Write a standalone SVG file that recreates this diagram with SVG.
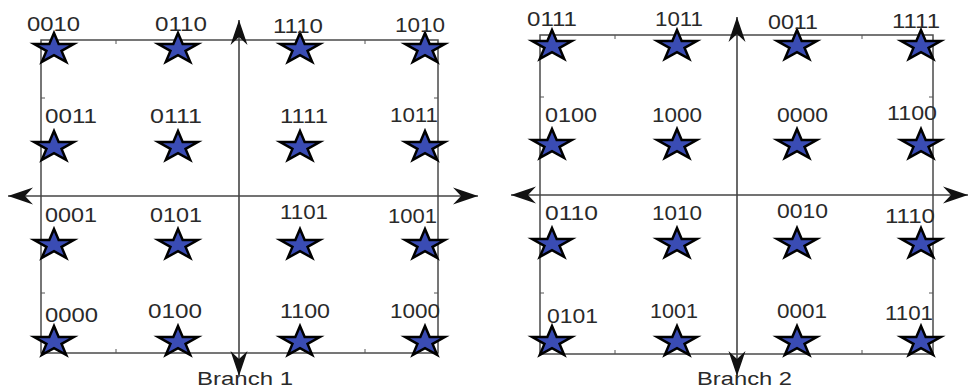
<svg xmlns="http://www.w3.org/2000/svg" width="970" height="389" viewBox="0 0 970 389">
<style>
.box{fill:none;stroke:#4a4a4a;stroke-width:1.5}
.tick{stroke:#555;stroke-width:1}
.axis{stroke:#444;stroke-width:1.6;fill:none;marker-end:url(#ah)}
.lbl{font-family:"Liberation Sans",Arial,sans-serif;font-size:21px;fill:#2a2a2a}
.cap{font-family:"Liberation Sans",Arial,sans-serif;font-size:18px;fill:#2a2a2a}
.star{fill:#3a4cb4;stroke:#000;stroke-width:2.5;stroke-linejoin:miter}
</style>
<defs>
<marker id="ah" markerUnits="userSpaceOnUse" markerWidth="30" markerHeight="20" viewBox="-26 -10 28 20" refX="0" refY="0" orient="auto">
<path d="M0,0 L-25,-8.5 L-17,0 L-25,8.5 Z" fill="#111"/>
</marker>
<path id="st" class="star" d="M0,-16 L4.67,-4.94 L19.8,-4.94 L7.55,1.89 L12.2,12.94 L0,6.11 L-12.2,12.94 L-7.55,1.89 L-19.8,-4.94 L-4.67,-4.94 Z"/>
</defs>
<rect width="970" height="389" fill="#fff"/>
<g id="frame1">
<rect class="box" x="41" y="40" width="397" height="313"/>
<line class="tick" x1="116" y1="40" x2="116" y2="44"/>
<line class="tick" x1="365" y1="40" x2="365" y2="44"/>
<line class="tick" x1="116" y1="353" x2="116" y2="349"/>
<line class="tick" x1="365" y1="353" x2="365" y2="349"/>
<line class="tick" x1="41" y1="98" x2="45" y2="98"/>
<line class="tick" x1="41" y1="293" x2="45" y2="293"/>
<line class="tick" x1="438" y1="98" x2="434" y2="98"/>
<line class="tick" x1="438" y1="293" x2="434" y2="293"/>
</g>
<g id="frame2">
<rect class="box" x="540" y="35" width="393" height="319"/>
<line class="tick" x1="615" y1="35" x2="615" y2="39"/>
<line class="tick" x1="862" y1="35" x2="862" y2="39"/>
<line class="tick" x1="615" y1="354" x2="615" y2="350"/>
<line class="tick" x1="862" y1="354" x2="862" y2="350"/>
<line class="tick" x1="540" y1="97" x2="544" y2="97"/>
<line class="tick" x1="540" y1="293" x2="544" y2="293"/>
<line class="tick" x1="933" y1="97" x2="929" y2="97"/>
<line class="tick" x1="933" y1="293" x2="929" y2="293"/>
</g>
<g id="connectors">
<line class="axis" x1="239" y1="196" x2="239" y2="20"/>
<line class="axis" x1="239" y1="196" x2="239" y2="376"/>
<line class="axis" x1="239" y1="196" x2="8" y2="196"/>
<line class="axis" x1="239" y1="196" x2="478" y2="196"/>
<line class="axis" x1="737" y1="195" x2="737" y2="17"/>
<line class="axis" x1="737" y1="195" x2="737" y2="376"/>
<line class="axis" x1="737" y1="195" x2="511" y2="195"/>
<line class="axis" x1="737" y1="195" x2="968" y2="195"/>
</g>
<g id="b1_0010"><use href="#st" x="54" y="49"/><text class="lbl" x="27" y="31" textLength="53" lengthAdjust="spacingAndGlyphs">0010</text></g>
<g id="b1_0110"><use href="#st" x="178" y="49"/><text class="lbl" x="155" y="31" textLength="52" lengthAdjust="spacingAndGlyphs">0110</text></g>
<g id="b1_1110"><use href="#st" x="300" y="49"/><text class="lbl" x="273" y="33" textLength="50" lengthAdjust="spacingAndGlyphs">1110</text></g>
<g id="b1_1010"><use href="#st" x="425" y="49"/><text class="lbl" x="395" y="32" textLength="50" lengthAdjust="spacingAndGlyphs">1010</text></g>
<g id="b1_0011"><use href="#st" x="54" y="147"/><text class="lbl" x="45" y="123" textLength="52" lengthAdjust="spacingAndGlyphs">0011</text></g>
<g id="b1_0111"><use href="#st" x="178" y="147"/><text class="lbl" x="150" y="123" textLength="52" lengthAdjust="spacingAndGlyphs">0111</text></g>
<g id="b1_1111"><use href="#st" x="300" y="147"/><text class="lbl" x="280" y="123" textLength="48" lengthAdjust="spacingAndGlyphs">1111</text></g>
<g id="b1_1011"><use href="#st" x="425" y="147"/><text class="lbl" x="390" y="122" textLength="48" lengthAdjust="spacingAndGlyphs">1011</text></g>
<g id="b1_0001"><use href="#st" x="54" y="245"/><text class="lbl" x="45" y="222" textLength="52" lengthAdjust="spacingAndGlyphs">0001</text></g>
<g id="b1_0101"><use href="#st" x="178" y="245"/><text class="lbl" x="150" y="222" textLength="52" lengthAdjust="spacingAndGlyphs">0101</text></g>
<g id="b1_1101"><use href="#st" x="300" y="245"/><text class="lbl" x="280" y="219" textLength="48" lengthAdjust="spacingAndGlyphs">1101</text></g>
<g id="b1_1001"><use href="#st" x="425" y="245"/><text class="lbl" x="388" y="223" textLength="49" lengthAdjust="spacingAndGlyphs">1001</text></g>
<g id="b1_0000"><use href="#st" x="54" y="342"/><text class="lbl" x="45" y="322" textLength="53" lengthAdjust="spacingAndGlyphs">0000</text></g>
<g id="b1_0100"><use href="#st" x="178" y="342"/><text class="lbl" x="148" y="318" textLength="54" lengthAdjust="spacingAndGlyphs">0100</text></g>
<g id="b1_1100"><use href="#st" x="300" y="342"/><text class="lbl" x="280" y="318" textLength="50" lengthAdjust="spacingAndGlyphs">1100</text></g>
<g id="b1_1000"><use href="#st" x="425" y="342"/><text class="lbl" x="390" y="318" textLength="50" lengthAdjust="spacingAndGlyphs">1000</text></g>
<g id="b2_0111"><use href="#st" x="552" y="46"/><text class="lbl" x="527" y="26" textLength="50" lengthAdjust="spacingAndGlyphs">0111</text></g>
<g id="b2_1011"><use href="#st" x="677" y="46"/><text class="lbl" x="655" y="26" textLength="48" lengthAdjust="spacingAndGlyphs">1011</text></g>
<g id="b2_0011"><use href="#st" x="797" y="46"/><text class="lbl" x="768" y="29" textLength="50" lengthAdjust="spacingAndGlyphs">0011</text></g>
<g id="b2_1111"><use href="#st" x="921" y="46"/><text class="lbl" x="892" y="28" textLength="48" lengthAdjust="spacingAndGlyphs">1111</text></g>
<g id="b2_0100"><use href="#st" x="552" y="145"/><text class="lbl" x="545" y="122" textLength="52" lengthAdjust="spacingAndGlyphs">0100</text></g>
<g id="b2_1000"><use href="#st" x="677" y="145"/><text class="lbl" x="652" y="122" textLength="50" lengthAdjust="spacingAndGlyphs">1000</text></g>
<g id="b2_0000"><use href="#st" x="797" y="145"/><text class="lbl" x="777" y="122" textLength="51" lengthAdjust="spacingAndGlyphs">0000</text></g>
<g id="b2_1100"><use href="#st" x="921" y="145"/><text class="lbl" x="887" y="120" textLength="50" lengthAdjust="spacingAndGlyphs">1100</text></g>
<g id="b2_0110"><use href="#st" x="552" y="244"/><text class="lbl" x="545" y="220" textLength="53" lengthAdjust="spacingAndGlyphs">0110</text></g>
<g id="b2_1010"><use href="#st" x="677" y="244"/><text class="lbl" x="652" y="220" textLength="50" lengthAdjust="spacingAndGlyphs">1010</text></g>
<g id="b2_0010"><use href="#st" x="797" y="244"/><text class="lbl" x="777" y="218" textLength="51" lengthAdjust="spacingAndGlyphs">0010</text></g>
<g id="b2_1110"><use href="#st" x="921" y="244"/><text class="lbl" x="885" y="223" textLength="50" lengthAdjust="spacingAndGlyphs">1110</text></g>
<g id="b2_0101"><use href="#st" x="552" y="342"/><text class="lbl" x="547" y="323" textLength="51" lengthAdjust="spacingAndGlyphs">0101</text></g>
<g id="b2_1001"><use href="#st" x="677" y="342"/><text class="lbl" x="650" y="318" textLength="48" lengthAdjust="spacingAndGlyphs">1001</text></g>
<g id="b2_0001"><use href="#st" x="797" y="342"/><text class="lbl" x="777" y="318" textLength="50" lengthAdjust="spacingAndGlyphs">0001</text></g>
<g id="b2_1101"><use href="#st" x="921" y="342"/><text class="lbl" x="885" y="320" textLength="48" lengthAdjust="spacingAndGlyphs">1101</text></g>
<g id="captions">
<text class="cap" x="197" y="385" textLength="96" lengthAdjust="spacingAndGlyphs">Branch 1</text>
<text class="cap" x="697" y="385" textLength="95" lengthAdjust="spacingAndGlyphs">Branch 2</text>
</g>
</svg>
